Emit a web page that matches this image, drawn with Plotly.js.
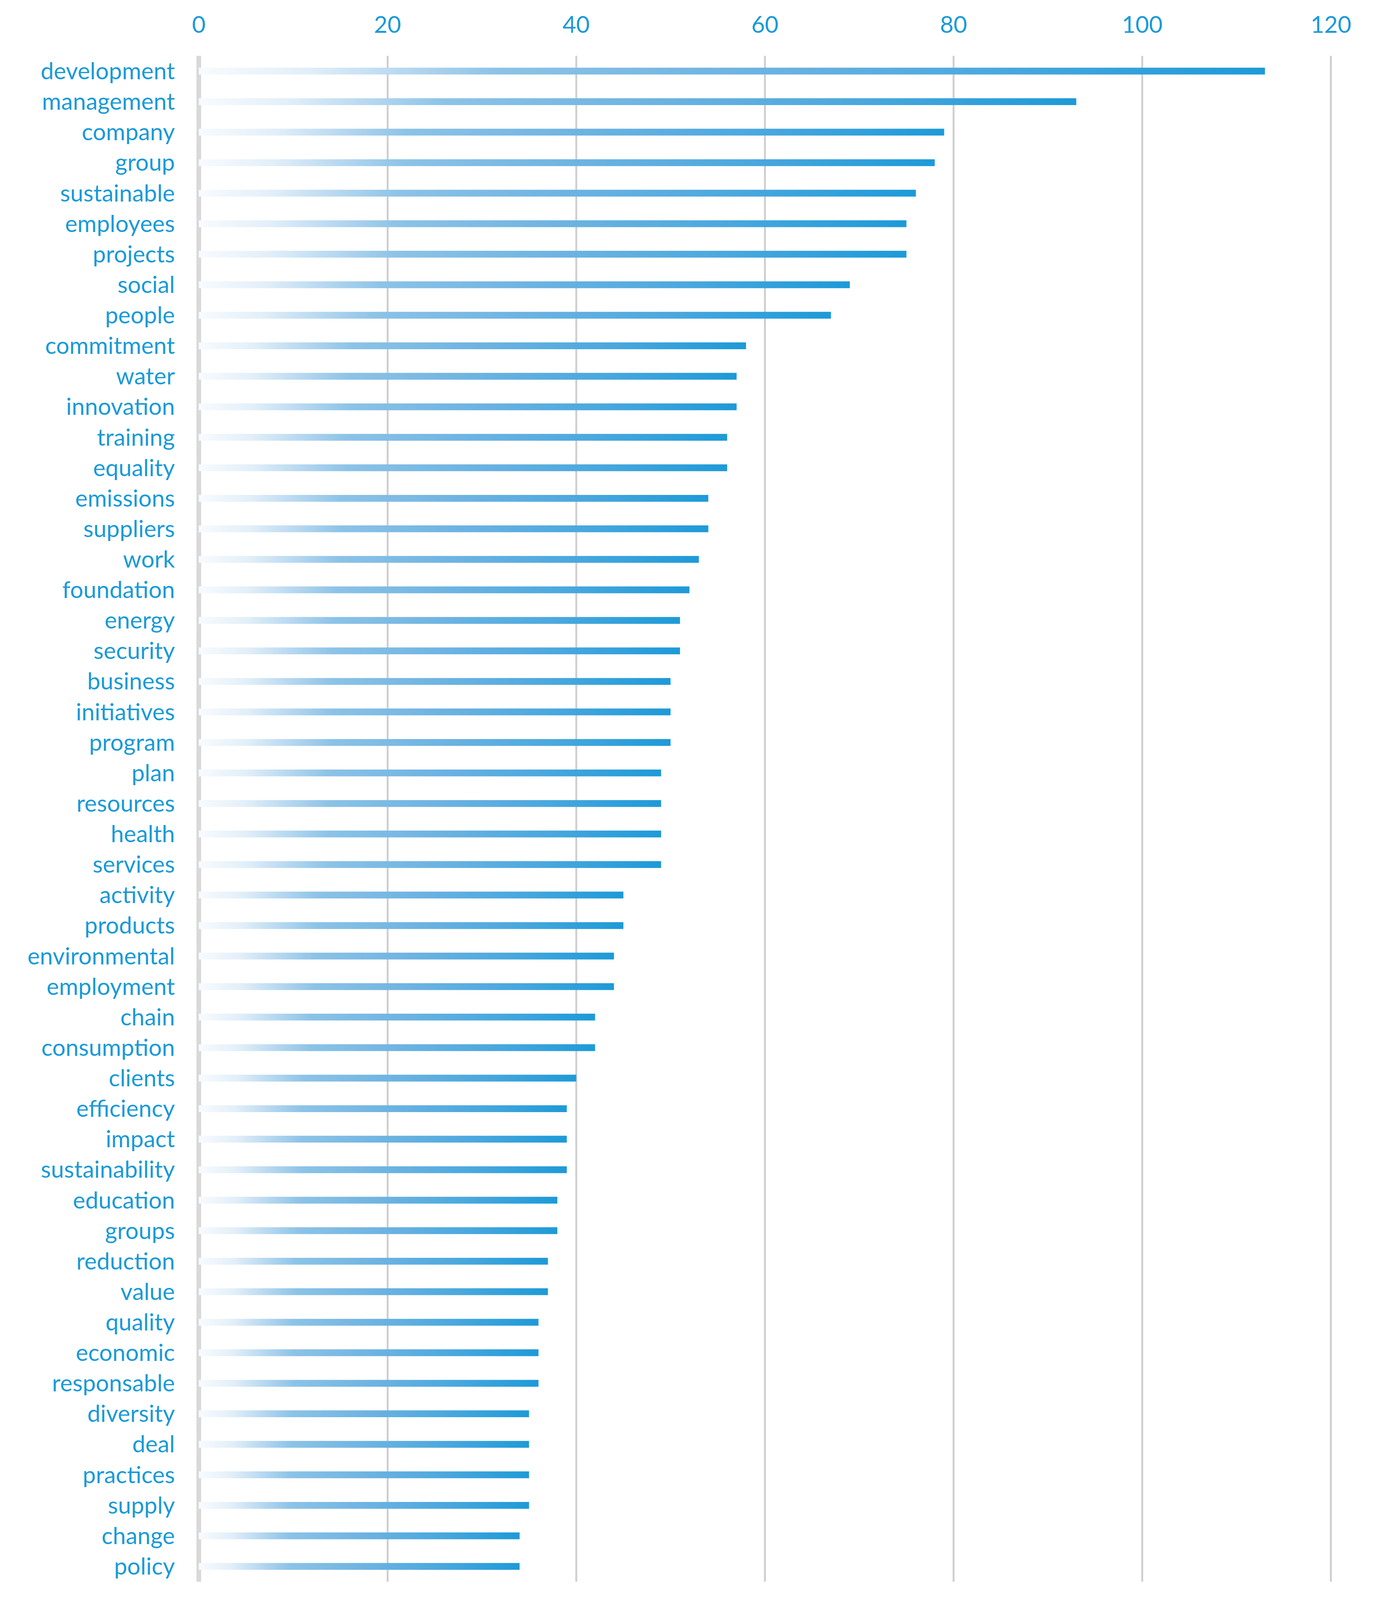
<!DOCTYPE html>
<html>
<head>
<meta charset="utf-8">
<script src="https://cdn.plot.ly/plotly-3.0.1.min.js"></script>
<style>
  html, body { margin: 0; padding: 0; background: #ffffff; overflow: hidden; }
</style>
</head>
<body>
<div id="chart"></div>
<script>
// word counts (top to bottom)
const words = [
    'development', 'management', 'company', 'group', 'sustainable',
    'employees', 'projects', 'social', 'people', 'commitment',
    'water', 'innovation', 'training', 'equality', 'emissions',
    'suppliers', 'work', 'foundation', 'energy', 'security',
    'business', 'initiatives', 'program', 'plan', 'resources',
    'health', 'services', 'activity', 'products', 'environmental',
    'employment', 'chain', 'consumption', 'clients', 'efficiency',
    'impact', 'sustainability', 'education', 'groups', 'reduction',
    'value', 'quality', 'economic', 'responsable', 'diversity',
    'deal', 'practices', 'supply', 'change', 'policy'
];
const counts = [
    113, 93, 79, 78, 76,
    75, 75, 69, 67, 58,
    57, 57, 56, 56, 54,
    54, 53, 52, 51, 51,
    50, 50, 50, 49, 49,
    49, 49, 45, 45, 44,
    44, 42, 42, 40, 39,
    39, 39, 38, 38, 37,
    37, 36, 36, 36, 35,
    35, 35, 35, 34, 34
];
const tickVals = [0, 20, 40, 60, 80, 100, 120];

const blue = '#1c9ad8';
const fontFamily = 'Lato, "Open Sans", sans-serif';

// the chart was made for 3541x4664; the window may be shorter, so squeeze vertically
const W = 3541;
const H = Math.min(window.innerHeight || 4664, 4664);
const ky = H / 4664;

const trace = {
    type: 'bar',
    orientation: 'h',
    x: counts,
    y: words,
    marker: { color: blue, line: { width: 0 } },
    hoverinfo: 'skip'
};

const layout = {
    width: W,
    height: H,
    margin: { l: 497, r: 109, t: Math.round(163 * ky), b: Math.round(54 * ky) },
    paper_bgcolor: '#ffffff',
    plot_bgcolor: '#ffffff',
    showlegend: false,
    bargap: 0.776,
    font: { family: fontFamily, color: blue, size: 60 },
    xaxis: {
        side: 'top',
        range: [-0.5, 121],
        tickvals: tickVals,
        ticktext: tickVals.map(String),
        ticks: '',
        ticklabelstandoff: Math.round(52 * ky),
        showgrid: true,
        gridcolor: '#d0d0d0',
        gridwidth: 5,
        zeroline: true,
        zerolinecolor: '#d9d9d9',
        zerolinewidth: 12,
        showline: false,
        tickfont: { family: fontFamily, color: blue, size: 60 }
    },
    yaxis: {
        type: 'category',
        autorange: 'reversed',
        ticks: '',
        ticklabelstandoff: 48,
        showgrid: false,
        zeroline: false,
        showline: false,
        tickfont: { family: fontFamily, color: blue, size: 60 }
    }
};

// Excel-like fade: each bar goes from almost white at the axis to full blue at its end
function paintGradient(gd) {
    const svg = gd.querySelector('svg.main-svg');
    const ns = 'http://www.w3.org/2000/svg';
    let defs = svg.querySelector('defs');
    if (!defs) {
        defs = document.createElementNS(ns, 'defs');
        svg.insertBefore(defs, svg.firstChild);
    }
    const grad = document.createElementNS(ns, 'linearGradient');
    grad.setAttribute('id', 'barFade');
    grad.setAttribute('x1', '0');
    grad.setAttribute('y1', '0');
    grad.setAttribute('x2', '1');
    grad.setAttribute('y2', '0');
    const stops = [
        [0, '#f8fbfe'],
        [0.10, '#e2eff9'],
        [0.20, '#b3d6f0'],
        [0.28, '#8cc3e7'],
        [0.50, '#6fb4e2'],
        [0.75, '#4aa8de'],
        [1, '#1d9ad8']
    ];
    stops.forEach(s => {
        const st = document.createElementNS(ns, 'stop');
        st.setAttribute('offset', s[0]);
        st.setAttribute('stop-color', s[1]);
        grad.appendChild(st);
    });
    defs.appendChild(grad);
    gd.querySelectorAll('.barlayer .point path').forEach(p => {
        p.style.fill = 'url(#barFade)';
    });
}

Plotly.newPlot('chart', [trace], layout, { staticPlot: true, displayModeBar: false })
    .then(paintGradient);
</script>
</body>
</html>
